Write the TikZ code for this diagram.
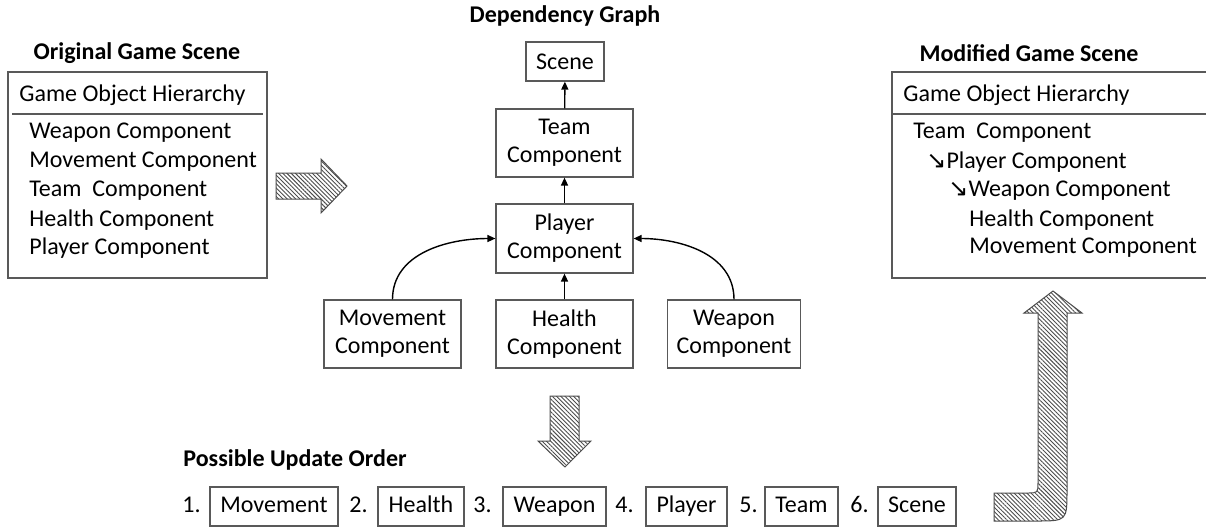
\documentclass[tikz,border=0pt]{standalone}
\usepackage{fontspec}
\setmainfont{Carlito}
\newfontfamily\symfont{DejaVu Sans}
\usetikzlibrary{arrows.meta,patterns.meta}
\definecolor{edge}{gray}{0.35}
\definecolor{hatch}{gray}{0.3}
\tikzset{
  box/.style={draw=edge, line width=0.6pt, inner sep=0pt, align=center},
  title/.style={font=\fontsize{12}{14}\selectfont\bfseries, inner sep=0pt},
  item/.style={font=\fontsize{12}{14}\selectfont, inner sep=0pt, anchor=west},
  dep/.style={-{Triangle[length=4pt,width=3.5pt]}, line width=0.7pt},
  bigarrow/.style={draw=hatch, line width=0.5pt,
    pattern={Lines[angle=-45,distance=1.5pt,line width=0.45pt]}, pattern color=hatch},
  ord/.style={font=\fontsize{12}{14}\selectfont, inner sep=0pt, anchor=west,
    text height=8.5pt, text depth=2.5pt},
  obox/.style={box, minimum height=19.5pt, text height=8.5pt, text depth=2.5pt},
}
\newcommand{\sub}{{\symfont\fontsize{12}{14}\selectfont ↘}}
\begin{document}
\begin{tikzpicture}[x=0.5pt,y=-0.5pt]
\useasboundingbox (0,0) rectangle (1206,527);
\clip (0,0) rectangle (1206,527);
\fontsize{12}{14}\selectfont

% ---- original scene ----
\node[title] (origT) at (137,53) {Original Game Scene};
\draw[edge, line width=0.6pt] (8,72) rectangle (267,278);
\node[item] (origH) at (19,95) {Game Object Hierarchy};
\draw[edge, line width=0.6pt] (12,114) -- (263,114);
\node[item] (o1) at (29,133) {Weapon Component};
\node[item] (o2) at (29,162) {Movement Component};
\node[item] (o3) at (29,191) {Team\ \ Component};
\node[item] (o4) at (29,220) {Health Component};
\node[item] (o5) at (29,248) {Player Component};

% ---- modified scene (box runs past the right edge) ----
\node[title] (modT) at (1029,53) {Modified Game Scene};
\draw[edge, line width=0.6pt] (1215,72) -- (892,72) -- (892,278) -- (1215,278);
\node[item] (modH) at (903,95) {Game Object Hierarchy};
\draw[edge, line width=0.6pt] (892,114) -- (1215,114);
\node[item] (m1) at (913,133) {Team\ \ Component};
\node[item] (m2) at (926,162) {\sub Player Component};
\node[item] (m3) at (948,191) {\sub Weapon Component};
\node[item] (m4) at (969,220) {Health Component};
\node[item] (m5) at (969,248) {Movement Component};

% ---- dependency graph ----
\node[title] (depT) at (565,16) {Dependency Graph};
\node[box, minimum width=39pt, minimum height=19.5pt] (scene) at (565,61.5) {Scene};
\node[box, minimum width=68.5pt, minimum height=34pt] (team) at (564.5,143) {Team\\Component};
\node[box, minimum width=68.5pt, minimum height=34.5pt] (player) at (564.5,238.5) {Player\\Component};
\node[box, minimum width=68.5pt, minimum height=34pt] (move) at (392.5,334) {Movement\\Component};
\node[box, minimum width=68.5pt, minimum height=34pt] (health) at (564.5,334) {Health\\Component};
\node[box, minimum width=66.5pt, minimum height=34pt] (weapon) at (734,334) {Weapon\\Component};

\draw[dep] (team) -- (scene);
\draw[dep] (player) -- (team);
\draw[dep] (health) -- (player);
\draw[dep] (move.north) to[out=90,in=180] (player.west);
\draw[dep] (weapon.north) to[out=90,in=0] (player.east);

% ---- hatched flow arrows ----
\draw[bigarrow] (276,173) -- (321,173) -- (321,159) -- (347,186) -- (321,213)
  -- (321,199) -- (276,199) -- cycle;
\draw[bigarrow] (550,396) -- (579,396) -- (579,441) -- (591,441) -- (565,467)
  -- (538,441) -- (550,441) -- cycle;
\draw[bigarrow] (994,493) -- (1027,493) .. controls (1038,493) .. (1038,482)
  -- (1038,313) -- (1024,313) -- (1053,291) -- (1082,313) -- (1067,313)
  -- (1067,490) .. controls (1067,521) .. (1036,521) -- (994,521) -- cycle;

% ---- update order ----
\node[title, anchor=west] (ordT) at (183,460) {Possible Update Order};
\node[ord] (n1) at (182,506.5) {1.};
\node[obox, minimum width=64pt] (u1) at (274,506.5) {Movement};
\node[ord] (n2) at (349,506.5) {2.};
\node[obox, minimum width=43pt] (u2) at (421,506.5) {Health};
\node[ord] (n3) at (473,506.5) {3.};
\node[obox, minimum width=51.5pt] (u3) at (554.5,506.5) {Weapon};
\node[ord] (n4) at (615,506.5) {4.};
\node[obox, minimum width=40.5pt] (u4) at (686.5,506.5) {Player};
\node[ord] (n5) at (739,506.5) {5.};
\node[obox, minimum width=36.5pt] (u5) at (801.5,506.5) {Team};
\node[ord] (n6) at (850,506.5) {6.};
\node[obox, minimum width=39pt] (u6) at (917,506.5) {Scene};
\end{tikzpicture}
\end{document}
